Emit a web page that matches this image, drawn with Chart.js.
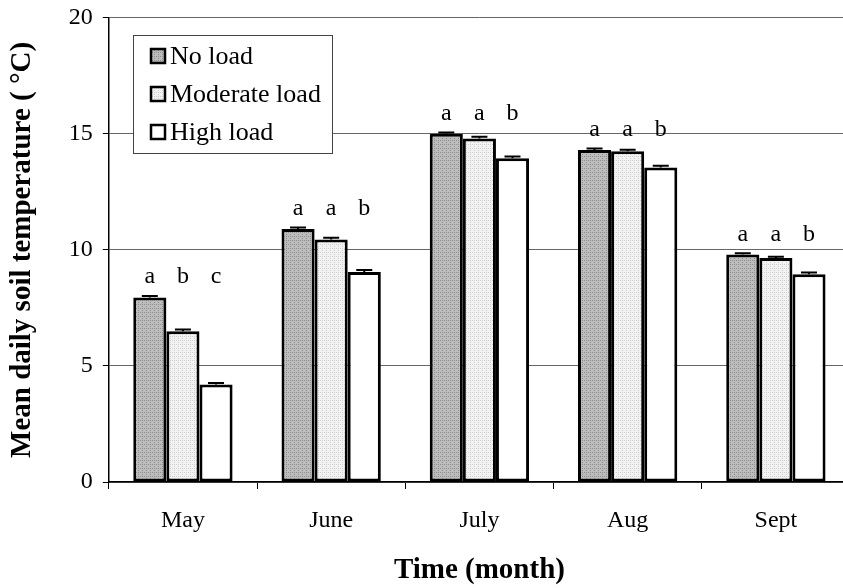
<!DOCTYPE html>
<html lang="en">
<head>
    <meta charset="UTF-8">
    <title>Mean daily soil temperature</title>
    <script src="https://cdn.jsdelivr.net/npm/chart.js"></script>
    <style>
        body { margin: 0; background: #fff; overflow: hidden; }
        /* the original figure is cropped on the right, so the canvas runs a bit past the window */
        #wrap { width: 843px; height: 588px; overflow: hidden; }
    </style>
</head>
<body>
    <div id="wrap"><canvas id="graph" width="850" height="588"></canvas></div>

    <script>
        // data
        const months = ['May', 'June', 'July', 'Aug', 'Sept'];
        const seriesNames = ['No load', 'Moderate load', 'High load'];
        const noLoad = [7.95, 10.9, 15.0, 14.3, 9.8];
        const moderateLoad = [6.5, 10.45, 14.8, 14.25, 9.65];
        const highLoad = [4.2, 9.05, 13.95, 13.55, 8.95];
        const noLoadErr = [0.06, 0.07, 0.06, 0.07, 0.06];
        const moderateErr = [0.07, 0.07, 0.08, 0.07, 0.06];
        const highErr = [0.07, 0.08, 0.07, 0.08, 0.08];
        const letters = [
            ['a', 'b', 'c'],
            ['a', 'a', 'b'],
            ['a', 'a', 'b'],
            ['a', 'a', 'b'],
            ['a', 'a', 'b']
        ];
        const yTicks = [0, 5, 10, 15, 20];

        const serif = '"Liberation Serif", "Times New Roman", serif';

        // little dotted fills like the printed shading
        function makePattern(base, dot) {
            const c = document.createElement('canvas');
            c.width = 4; c.height = 4;
            const g = c.getContext('2d');
            g.fillStyle = base;
            g.fillRect(0, 0, 4, 4);
            g.fillStyle = dot;
            g.fillRect(0, 0, 1, 1);
            g.fillRect(2, 2, 1, 1);
            g.fillRect(2, 0, 1, 1);
            return g.createPattern(c, 'repeat');
        }

        const fills = [
            makePattern('#bdbdbd', '#8e8e8e'),
            makePattern('#f2f2f2', '#cfcfcf'),
            '#ffffff'
        ];
        const errs = [noLoadErr, moderateErr, highErr];

        // error bars + significance letters + boxed legend
        const extrasPlugin = {
            id: 'extras',
            afterDatasetsDraw(chart) {
                const ctx = chart.ctx;
                const yScale = chart.scales.y;
                ctx.save();
                ctx.strokeStyle = '#000';
                ctx.lineWidth = 2;
                chart.data.datasets.forEach((ds, di) => {
                    const meta = chart.getDatasetMeta(di);
                    meta.data.forEach((bar, i) => {
                        const v = ds.data[i];
                        const yTop = yScale.getPixelForValue(v + errs[di][i]);
                        const yBase = yScale.getPixelForValue(v);
                        ctx.beginPath();
                        ctx.moveTo(bar.x, yBase);
                        ctx.lineTo(bar.x, yTop);
                        ctx.moveTo(bar.x - 8, yTop);
                        ctx.lineTo(bar.x + 8, yTop);
                        ctx.stroke();
                    });
                });
                ctx.fillStyle = '#000';
                ctx.font = '24px ' + serif;
                ctx.textAlign = 'center';
                ctx.textBaseline = 'alphabetic';
                months.forEach((m, i) => {
                    const top = Math.max(noLoad[i], moderateLoad[i], highLoad[i]);
                    const y = yScale.getPixelForValue(top) - 14;
                    chart.data.datasets.forEach((ds, di) => {
                        const bar = chart.getDatasetMeta(di).data[i];
                        ctx.fillText(letters[i][di], bar.x, y);
                    });
                });
                ctx.restore();
            },
            afterDraw(chart) {
                const ctx = chart.ctx;
                const x0 = 133, y0 = 35, w = 199, h = 118;
                ctx.save();
                ctx.fillStyle = '#fff';
                ctx.fillRect(x0, y0, w, h);
                ctx.strokeStyle = '#444';
                ctx.lineWidth = 1;
                ctx.strokeRect(x0 + 0.5, y0 + 0.5, w, h);
                ctx.font = '26px ' + serif;
                ctx.textBaseline = 'middle';
                seriesNames.forEach((name, i) => {
                    const cy = y0 + 21 + i * 38;
                    ctx.fillStyle = fills[i];
                    ctx.fillRect(x0 + 18, cy - 7, 14, 14);
                    ctx.strokeStyle = '#000';
                    ctx.lineWidth = 2.5;
                    ctx.strokeRect(x0 + 18, cy - 7, 14, 14);
                    ctx.fillStyle = '#000';
                    ctx.fillText(name, x0 + 37, cy + 1);
                });
                ctx.restore();
            }
        };

        new Chart(document.getElementById('graph').getContext('2d'), {
            type: 'bar',
            data: {
                labels: months,
                datasets: seriesNames.map((name, i) => ({
                    label: name,
                    data: [noLoad, moderateLoad, highLoad][i],
                    backgroundColor: fills[i],
                    borderColor: '#000',
                    borderWidth: 3,
                    borderSkipped: false,
                    categoryPercentage: 0.67,
                    barPercentage: 1.0
                }))
            },
            options: {
                responsive: false,
                animation: false,
                layout: { padding: { top: 0, right: 0, left: 5, bottom: 3 } },
                plugins: {
                    legend: { display: false },
                    tooltip: { enabled: false }
                },
                scales: {
                    x: {
                        grid: {
                            offset: true,
                            drawOnChartArea: false,
                            color: '#000',
                            tickLength: 7
                        },
                        border: { color: '#000', width: 1.5 },
                        ticks: {
                            color: '#000',
                            padding: 20,
                            font: { family: serif, size: 24, lineHeight: 1 }
                        },
                        title: {
                            display: true,
                            text: 'Time (month)',
                            color: '#000',
                            padding: { top: 3, bottom: 0 },
                            font: { family: serif, size: 29, weight: 'bold', lineHeight: 1 }
                        }
                    },
                    y: {
                        min: 0,
                        max: 20,
                        afterBuildTicks(scale) {
                            scale.ticks = yTicks.map(v => ({ value: v }));
                        },
                        grid: {
                            color: '#666',
                            lineWidth: 1,
                            tickLength: 6,
                            tickColor: '#000'
                        },
                        border: { color: '#000', width: 1.5 },
                        ticks: {
                            color: '#000',
                            padding: 10,
                            font: { family: serif, size: 24, lineHeight: 0.65 }
                        },
                        title: {
                            display: true,
                            text: 'Mean daily soil temperature ( \u00B0C)',
                            color: '#000',
                            padding: { top: 0, bottom: 19 },
                            font: { family: serif, size: 29, weight: 'bold' }
                        }
                    }
                }
            },
            plugins: [extrasPlugin]
        });
    </script>
</body>
</html>
